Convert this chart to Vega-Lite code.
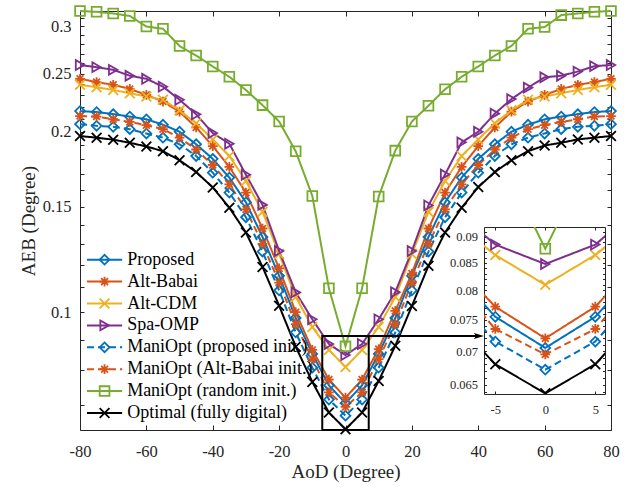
{
  "$schema": "https://vega.github.io/schema/vega-lite/v6.json",
  "autosize": {"type": "pad"},
  "padding": {"left": 19, "top": 2, "right": 20, "bottom": 5},
  "background": "white",
  "config": {
    "font": "Liberation Serif",
    "view": {"stroke": "#262626", "strokeWidth": 1},
    "axis": {"grid": false, "domain": true, "domainColor": "#262626", "domainWidth": 1, "labelFlush": false, "labelOverlap": false, "tickColor": "#262626", "tickWidth": 1, "labelColor": "#262626", "titleColor": "#262626", "labelFont": "Liberation Serif", "titleFont": "Liberation Serif", "titleFontWeight": "normal", "labelFontSize": 16.5, "titleFontSize": 19}
  },
  "datasets": {
    "curves": [
      {"AoD": -80, "P": 0.2165, "AB": 0.2451, "CDM": 0.2395, "OMP": 0.2584, "MP": 0.2059, "MAB": 0.2124, "MR": 0.318, "OPT": 0.1967},
      {"AoD": -75, "P": 0.2157, "AB": 0.2420, "CDM": 0.2373, "OMP": 0.2563, "MP": 0.2046, "MAB": 0.2120, "MR": 0.317, "OPT": 0.1955},
      {"AoD": -70, "P": 0.2140, "AB": 0.2395, "CDM": 0.2348, "OMP": 0.2537, "MP": 0.2038, "MAB": 0.2098, "MR": 0.315, "OPT": 0.1940},
      {"AoD": -65, "P": 0.2120, "AB": 0.2357, "CDM": 0.2319, "OMP": 0.2480, "MP": 0.2020, "MAB": 0.2077, "MR": 0.312, "OPT": 0.1917},
      {"AoD": -60, "P": 0.2098, "AB": 0.2304, "CDM": 0.2290, "OMP": 0.2451, "MP": 0.1986, "MAB": 0.2051, "MR": 0.2996, "OPT": 0.1890},
      {"AoD": -55, "P": 0.2055, "AB": 0.2246, "CDM": 0.2261, "OMP": 0.2378, "MP": 0.1955, "MAB": 0.2020, "MR": 0.297, "OPT": 0.1856},
      {"AoD": -50, "P": 0.2000, "AB": 0.2160, "CDM": 0.2171, "OMP": 0.2261, "MP": 0.1906, "MAB": 0.1955, "MR": 0.278, "OPT": 0.1792},
      {"AoD": -45, "P": 0.1906, "AB": 0.2033, "CDM": 0.2066, "OMP": 0.2138, "MP": 0.1822, "MAB": 0.1868, "MR": 0.268, "OPT": 0.1713},
      {"AoD": -40, "P": 0.1802, "AB": 0.1893, "CDM": 0.1942, "OMP": 0.1990, "MP": 0.1709, "MAB": 0.1760, "MR": 0.257, "OPT": 0.1615},
      {"AoD": -35, "P": 0.1677, "AB": 0.1747, "CDM": 0.1822, "OMP": 0.1910, "MP": 0.1583, "MAB": 0.1634, "MR": 0.247, "OPT": 0.1494},
      {"AoD": -30, "P": 0.1525, "AB": 0.1583, "CDM": 0.1655, "OMP": 0.1695, "MP": 0.1440, "MAB": 0.1484, "MR": 0.2347, "OPT": 0.1358},
      {"AoD": -25, "P": 0.1335, "AB": 0.1379, "CDM": 0.1470, "OMP": 0.1510, "MP": 0.1262, "MAB": 0.1300, "MR": 0.2215, "OPT": 0.1190},
      {"AoD": -20, "P": 0.1150, "AB": 0.1183, "CDM": 0.1250, "OMP": 0.1265, "MP": 0.1087, "MAB": 0.1120, "MR": 0.208, "OPT": 0.1025},
      {"AoD": -15, "P": 0.0978, "AB": 0.1000, "CDM": 0.1060, "OMP": 0.1079, "MP": 0.0925, "MAB": 0.0955, "MR": 0.1855, "OPT": 0.0876},
      {"AoD": -10, "P": 0.0852, "AB": 0.0865, "CDM": 0.0945, "OMP": 0.0973, "MP": 0.0808, "MAB": 0.0835, "MR": 0.1563, "OPT": 0.0765},
      {"AoD": -5, "P": 0.0755, "AB": 0.0772, "CDM": 0.0865, "OMP": 0.0885, "MP": 0.0715, "MAB": 0.0735, "MR": 0.1096, "OPT": 0.0680},
      {"AoD": 0, "P": 0.0705, "AB": 0.0720, "CDM": 0.0810, "OMP": 0.0848, "MP": 0.0672, "MAB": 0.0695, "MR": 0.0877, "OPT": 0.0638},
      {"AoD": 5, "P": 0.0755, "AB": 0.0772, "CDM": 0.0865, "OMP": 0.0885, "MP": 0.0715, "MAB": 0.0735, "MR": 0.1096, "OPT": 0.0680},
      {"AoD": 10, "P": 0.0852, "AB": 0.0868, "CDM": 0.0945, "OMP": 0.0973, "MP": 0.0808, "MAB": 0.0835, "MR": 0.1559, "OPT": 0.0768},
      {"AoD": 15, "P": 0.0978, "AB": 0.1005, "CDM": 0.1060, "OMP": 0.1080, "MP": 0.0925, "MAB": 0.0955, "MR": 0.186, "OPT": 0.0879},
      {"AoD": 20, "P": 0.1150, "AB": 0.1160, "CDM": 0.1250, "OMP": 0.1265, "MP": 0.1087, "MAB": 0.1120, "MR": 0.208, "OPT": 0.1024},
      {"AoD": 25, "P": 0.1335, "AB": 0.1379, "CDM": 0.1470, "OMP": 0.1507, "MP": 0.1262, "MAB": 0.1300, "MR": 0.221, "OPT": 0.1195},
      {"AoD": 30, "P": 0.1525, "AB": 0.1583, "CDM": 0.1655, "OMP": 0.1697, "MP": 0.1440, "MAB": 0.1484, "MR": 0.2354, "OPT": 0.1358},
      {"AoD": 35, "P": 0.1677, "AB": 0.1747, "CDM": 0.1822, "OMP": 0.1920, "MP": 0.1583, "MAB": 0.1634, "MR": 0.247, "OPT": 0.1494},
      {"AoD": 40, "P": 0.1802, "AB": 0.1893, "CDM": 0.1942, "OMP": 0.2000, "MP": 0.1709, "MAB": 0.1760, "MR": 0.257, "OPT": 0.1617},
      {"AoD": 45, "P": 0.1906, "AB": 0.2033, "CDM": 0.2066, "OMP": 0.2144, "MP": 0.1822, "MAB": 0.1868, "MR": 0.268, "OPT": 0.1713},
      {"AoD": 50, "P": 0.2000, "AB": 0.2160, "CDM": 0.2171, "OMP": 0.2267, "MP": 0.1906, "MAB": 0.1955, "MR": 0.278, "OPT": 0.1792},
      {"AoD": 55, "P": 0.2055, "AB": 0.2246, "CDM": 0.2261, "OMP": 0.2369, "MP": 0.1955, "MAB": 0.2020, "MR": 0.297, "OPT": 0.1856},
      {"AoD": 60, "P": 0.2098, "AB": 0.2304, "CDM": 0.2290, "OMP": 0.2465, "MP": 0.1986, "MAB": 0.2051, "MR": 0.299, "OPT": 0.1897},
      {"AoD": 65, "P": 0.2120, "AB": 0.2357, "CDM": 0.2319, "OMP": 0.2480, "MP": 0.2020, "MAB": 0.2077, "MR": 0.313, "OPT": 0.1917},
      {"AoD": 70, "P": 0.2140, "AB": 0.2395, "CDM": 0.2348, "OMP": 0.2520, "MP": 0.2038, "MAB": 0.2098, "MR": 0.315, "OPT": 0.1942},
      {"AoD": 75, "P": 0.2157, "AB": 0.2420, "CDM": 0.2373, "OMP": 0.2573, "MP": 0.2046, "MAB": 0.2120, "MR": 0.317, "OPT": 0.1955},
      {"AoD": 80, "P": 0.2165, "AB": 0.2451, "CDM": 0.2395, "OMP": 0.2584, "MP": 0.2059, "MAB": 0.2124, "MR": 0.318, "OPT": 0.1967}
    ],
    "leg": [
      {"series": "P", "label": "Proposed"},
      {"series": "AB", "label": "Alt-Babai"},
      {"series": "CDM", "label": "Alt-CDM"},
      {"series": "OMP", "label": "Spa-OMP"},
      {"series": "MP", "label": "ManiOpt (proposed init.)"},
      {"series": "MAB", "label": "ManiOpt (Alt-Babai init.)"},
      {"series": "MR", "label": "ManiOpt (random init.)"},
      {"series": "OPT", "label": "Optimal (fully digital)"}
    ]
  },
  "hconcat": [
    {
      "width": 404,
      "height": 419,
      "view": {"stroke": null},
      "layer": [
        {
          "layer": [
            {
              "data": {"name": "curves"},
              "transform": [{"fold": ["P", "AB", "CDM", "OMP", "MP", "MAB", "MR", "OPT"], "as": ["series", "AEB"]}],
              "encoding": {
                "x": {"field": "AoD", "type": "quantitative", "scale": {"domain": [-80, 80], "range": [0, 531], "nice": false, "zero": false}, "axis": null},
                "y": {"field": "AEB", "type": "quantitative", "scale": {"type": "log", "domain": [0.0636, 0.318], "nice": false}, "axis": null},
                "color": {"field": "series", "type": "nominal", "scale": {"domain": ["P", "AB", "CDM", "OMP", "MP", "MAB", "MR", "OPT"], "range": ["#0072BD", "#D95319", "#EDB120", "#7E2F8E", "#0072BD", "#D95319", "#77AC30", "#000000"]}, "legend": null}
              },
              "layer": [
                {"mark": {"type": "line", "strokeWidth": 2}, "encoding": {"strokeDash": {"field": "series", "type": "nominal", "scale": {"domain": ["P", "AB", "CDM", "OMP", "MP", "MAB", "MR", "OPT"], "range": [[1, 0], [1, 0], [1, 0], [1, 0], [7, 4], [7, 4], [1, 0], [1, 0]]}, "legend": null}}},
                {"mark": {"type": "point", "filled": false, "strokeWidth": 1.8, "opacity": 1}, "encoding": {
                  "shape": {"field": "series", "type": "nominal", "scale": {"domain": ["P", "AB", "CDM", "OMP", "MP", "MAB", "MR", "OPT"], "range": ["diamond", "M-1,0L1,0M0,-1L0,1M-0.7,-0.7L0.7,0.7M-0.7,0.7L0.7,-0.7", "M-1,-1L1,1M-1,1L1,-1", "triangle-right", "diamond", "M-1,0L1,0M0,-1L0,1M-0.7,-0.7L0.7,0.7M-0.7,0.7L0.7,-0.7", "square", "M-1,-1L1,1M-1,1L1,-1"]}, "legend": null},
                  "size": {"field": "series", "type": "ordinal", "scale": {"domain": ["P", "AB", "CDM", "OMP", "MP", "MAB", "MR", "OPT"], "range": [95, 95, 45, 135, 95, 95, 60, 55]}, "legend": null}
                }}
              ]
            },
            {"data": {"values": [{}]}, "mark": {"type": "rect", "filled": false, "color": "#000000", "strokeWidth": 2}, "encoding": {"x": {"datum": -7, "type": "quantitative", "axis": null}, "x2": {"datum": 7}, "y": {"datum": 0.0636, "type": "quantitative", "axis": null}, "y2": {"datum": 0.0913}}},
            {"data": {"values": [{}]}, "mark": {"type": "rule", "color": "#000000", "strokeWidth": 2}, "encoding": {"x": {"datum": 7, "type": "quantitative", "axis": null}, "x2": {"datum": 40.2}, "y": {"datum": 0.0913, "type": "quantitative", "axis": null}}},
            {"data": {"values": [{}]}, "mark": {"type": "point", "shape": "M-1,-0.6L1,0L-1,0.6L-0.6,0Z", "filled": true, "color": "#000000", "size": 100, "opacity": 1}, "encoding": {"x": {"datum": 40.2, "type": "quantitative", "axis": null}, "y": {"datum": 0.0913, "type": "quantitative", "axis": null}}}
          ]
        },
        {
          "data": {"values": [{}]},
          "mark": {"type": "point", "opacity": 0},
          "encoding": {
            "x": {"datum": 0, "type": "quantitative", "scale": {"domain": [-80, 80], "range": [0, 531], "nice": false, "zero": false},
              "axis": {"orient": "bottom", "values": [-80, -60, -40, -20, 0, 20, 40, 60, 80], "tickSize": -5, "labelPadding": 18.3, "labelExpr": "datum.value < 0 ? '-' + abs(datum.value) : '' + datum.value", "title": "AoD (Degree)", "titlePadding": 3, "titleX": 265.5}},
            "y": {"datum": 0.1, "type": "quantitative", "scale": {"type": "log", "domain": [0.0636, 0.318], "nice": false},
              "axis": {"orient": "left", "values": [0.07, 0.08, 0.09, 0.1, 0.11, 0.12, 0.13, 0.14, 0.15, 0.16, 0.17, 0.18, 0.19, 0.2, 0.21, 0.22, 0.23, 0.24, 0.25, 0.26, 0.27, 0.28, 0.29, 0.3, 0.31], "tickSize": -4, "labelPadding": 13, "labelExpr": "(round(datum.value * 100) % 5 == 0 && datum.value > 0.095) ? format(datum.value, '~g') : ''", "title": "AEB (Degree)", "titlePadding": 4}}
          }
        },
        {
          "data": {"values": [{}]},
          "mark": {"type": "point", "opacity": 0},
          "encoding": {
            "x": {"datum": 0, "type": "quantitative", "scale": {"domain": [-80, 80], "range": [0, 531], "nice": false, "zero": false},
              "axis": {"orient": "top", "values": [-80, -60, -40, -20, 0, 20, 40, 60, 80], "tickSize": -5, "labels": false, "title": null}},
            "y": {"datum": 0.1, "type": "quantitative", "scale": {"type": "log", "domain": [0.0636, 0.318], "nice": false},
              "axis": {"orient": "left", "offset": -531, "values": [0.07, 0.08, 0.09, 0.1, 0.11, 0.12, 0.13, 0.14, 0.15, 0.16, 0.17, 0.18, 0.19, 0.2, 0.21, 0.22, 0.23, 0.24, 0.25, 0.26, 0.27, 0.28, 0.29, 0.3, 0.31], "tickSize": 4, "labels": false, "title": null}}
          }
        },
        {
          "data": {"name": "leg"},
          "encoding": {
            "y": {"field": "series", "type": "nominal", "scale": {"type": "point", "domain": ["P", "AB", "CDM", "OMP", "MP", "MAB", "MR", "OPT"], "range": [248.7, 402], "padding": 0}, "axis": null}
          },
          "layer": [
            {"mark": {"type": "rule", "strokeWidth": 2}, "encoding": {
              "x": {"datum": -77.9, "type": "quantitative", "axis": null}, "x2": {"datum": -67.3},
              "color": {"field": "series", "type": "nominal", "scale": {"domain": ["P", "AB", "CDM", "OMP", "MP", "MAB", "MR", "OPT"], "range": ["#0072BD", "#D95319", "#EDB120", "#7E2F8E", "#0072BD", "#D95319", "#77AC30", "#000000"]}, "legend": null},
              "strokeDash": {"field": "series", "type": "nominal", "scale": {"domain": ["P", "AB", "CDM", "OMP", "MP", "MAB", "MR", "OPT"], "range": [[1, 0], [1, 0], [1, 0], [1, 0], [7, 4], [7, 4], [1, 0], [1, 0]]}, "legend": null}
            }},
            {"mark": {"type": "point", "filled": false, "strokeWidth": 1.8, "opacity": 1}, "encoding": {
              "x": {"datum": -72.6, "type": "quantitative", "axis": null},
              "color": {"field": "series", "type": "nominal", "scale": {"domain": ["P", "AB", "CDM", "OMP", "MP", "MAB", "MR", "OPT"], "range": ["#0072BD", "#D95319", "#EDB120", "#7E2F8E", "#0072BD", "#D95319", "#77AC30", "#000000"]}, "legend": null},
              "shape": {"field": "series", "type": "nominal", "scale": {"domain": ["P", "AB", "CDM", "OMP", "MP", "MAB", "MR", "OPT"], "range": ["diamond", "M-1,0L1,0M0,-1L0,1M-0.7,-0.7L0.7,0.7M-0.7,0.7L0.7,-0.7", "M-1,-1L1,1M-1,1L1,-1", "triangle-right", "diamond", "M-1,0L1,0M0,-1L0,1M-0.7,-0.7L0.7,0.7M-0.7,0.7L0.7,-0.7", "square", "M-1,-1L1,1M-1,1L1,-1"]}, "legend": null},
              "size": {"field": "series", "type": "ordinal", "scale": {"domain": ["P", "AB", "CDM", "OMP", "MP", "MAB", "MR", "OPT"], "range": [95, 95, 45, 135, 95, 95, 60, 55]}, "legend": null}
            }},
            {"mark": {"type": "text", "align": "left", "baseline": "middle", "fontSize": 18, "font": "Liberation Serif", "color": "#000000"}, "encoding": {
              "x": {"datum": -65.8, "type": "quantitative", "axis": null},
              "text": {"field": "label"}
            }}
          ]
        }
      ],
      "resolve": {"scale": {"y": "independent"}, "axis": {"x": "independent", "y": "independent"}}
    },
    {
      "vconcat": [
        {"width": 121, "height": 216, "view": {"stroke": null}, "data": {"values": []}, "mark": "point"},
        {
          "width": 121,
          "height": 167,
          "view": {"fill": "white", "stroke": "#262626"},
          "layer": [
            {
              "data": {"name": "curves"},
              "transform": [{"fold": ["P", "AB", "CDM", "OMP", "MP", "MAB", "MR", "OPT"], "as": ["series", "AEB"]}, {"filter": "datum.AoD >= -10 && datum.AoD <= 10"}],
              "encoding": {
                "x": {"field": "AoD", "type": "quantitative", "scale": {"domain": [-6.13, 5.97], "nice": false, "zero": false}, "axis": null},
                "y": {"field": "AEB", "type": "quantitative", "scale": {"type": "log", "domain": [0.0637, 0.092], "nice": false}, "axis": null},
                "color": {"field": "series", "type": "nominal", "scale": {"domain": ["P", "AB", "CDM", "OMP", "MP", "MAB", "MR", "OPT"], "range": ["#0072BD", "#D95319", "#EDB120", "#7E2F8E", "#0072BD", "#D95319", "#77AC30", "#000000"]}, "legend": null}
              },
              "layer": [
                {"mark": {"type": "line", "strokeWidth": 2, "clip": true}, "encoding": {"strokeDash": {"field": "series", "type": "nominal", "scale": {"domain": ["P", "AB", "CDM", "OMP", "MP", "MAB", "MR", "OPT"], "range": [[1, 0], [1, 0], [1, 0], [1, 0], [7, 4], [7, 4], [1, 0], [1, 0]]}, "legend": null}}},
                {"mark": {"type": "point", "filled": false, "strokeWidth": 1.8, "opacity": 1, "clip": true}, "encoding": {
                  "shape": {"field": "series", "type": "nominal", "scale": {"domain": ["P", "AB", "CDM", "OMP", "MP", "MAB", "MR", "OPT"], "range": ["diamond", "M-1,0L1,0M0,-1L0,1M-0.7,-0.7L0.7,0.7M-0.7,0.7L0.7,-0.7", "M-1,-1L1,1M-1,1L1,-1", "triangle-right", "diamond", "M-1,0L1,0M0,-1L0,1M-0.7,-0.7L0.7,0.7M-0.7,0.7L0.7,-0.7", "square", "M-1,-1L1,1M-1,1L1,-1"]}, "legend": null},
                  "size": {"field": "series", "type": "ordinal", "scale": {"domain": ["P", "AB", "CDM", "OMP", "MP", "MAB", "MR", "OPT"], "range": [95, 95, 45, 135, 95, 95, 60, 55]}, "legend": null}
                }}
              ]
            },
            {
              "data": {"values": [{}]},
              "mark": {"type": "point", "opacity": 0},
              "encoding": {
                "x": {"datum": 0, "type": "quantitative", "scale": {"domain": [-6.13, 5.97], "nice": false, "zero": false},
                  "axis": {"orient": "bottom", "domain": false, "values": [-5, 0, 5], "tickSize": -3, "labelPadding": 12, "labelFontSize": 12.5, "labelExpr": "datum.value < 0 ? '-' + abs(datum.value) : '' + datum.value", "title": null}},
                "y": {"datum": 0.08, "type": "quantitative", "scale": {"type": "log", "domain": [0.0637, 0.092], "nice": false},
                  "axis": {"orient": "left", "domain": false, "values": [0.064, 0.065, 0.066, 0.067, 0.068, 0.069, 0.07, 0.071, 0.072, 0.073, 0.074, 0.075, 0.076, 0.077, 0.078, 0.079, 0.08, 0.081, 0.082, 0.083, 0.084, 0.085, 0.086, 0.087, 0.088, 0.089, 0.09, 0.091], "tickSize": -2.5, "labelPadding": 9, "labelFontSize": 12.5, "labelExpr": "round(datum.value * 1000) % 5 == 0 ? format(datum.value, '~g') : ''", "title": null}}
              }
            },
            {
              "data": {"values": [{}]},
              "mark": {"type": "point", "opacity": 0},
              "encoding": {
                "x": {"datum": 0, "type": "quantitative", "scale": {"domain": [-6.13, 5.97], "nice": false, "zero": false},
                  "axis": {"orient": "top", "domain": false, "values": [-5, 0, 5], "tickSize": -3, "labels": false, "title": null}},
                "y": {"datum": 0.08, "type": "quantitative", "scale": {"type": "log", "domain": [0.0637, 0.092], "nice": false},
                  "axis": {"orient": "right", "domain": false, "values": [0.064, 0.065, 0.066, 0.067, 0.068, 0.069, 0.07, 0.071, 0.072, 0.073, 0.074, 0.075, 0.076, 0.077, 0.078, 0.079, 0.08, 0.081, 0.082, 0.083, 0.084, 0.085, 0.086, 0.087, 0.088, 0.089, 0.09, 0.091], "tickSize": -2.5, "labels": false, "title": null}}
              }
            }
          ],
          "resolve": {"axis": {"x": "independent", "y": "independent"}}
        }
      ],
      "spacing": 0,
      "bounds": "flush"
    }
  ],
  "spacing": 0,
  "bounds": "flush"
}
